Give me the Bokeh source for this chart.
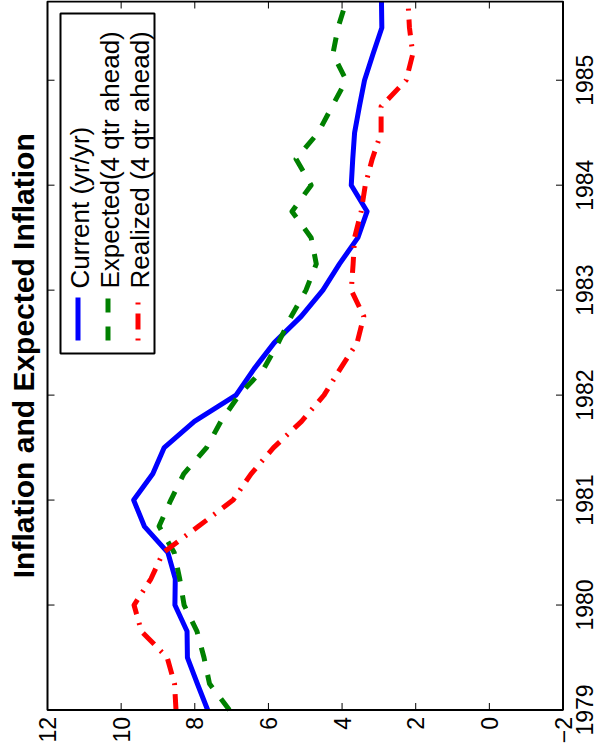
import math
from bokeh.plotting import figure
from bokeh.models import Range1d, Label, BoxAnnotation, Arrow, ColumnDataSource
from bokeh.core.properties import value
from bokeh.embed import file_html
from bokeh.resources import INLINE

# ---------------- data ----------------
quarters = [1979.00, 1979.25, 1979.50, 1979.75, 1980.00, 1980.25, 1980.50, 1980.75,
            1981.00, 1981.25, 1981.50, 1981.75, 1982.00, 1982.25, 1982.50, 1982.75,
            1983.00, 1983.25, 1983.50, 1983.75, 1984.00, 1984.25, 1984.50, 1984.75,
            1985.00, 1985.25, 1985.50, 1985.75]

current = [7.65, 7.93, 8.20, 8.21, 8.54, 8.53, 8.73, 9.37,
           9.66, 9.14, 8.83, 8.01, 6.88, 6.39, 5.84, 5.11,
           4.52, 4.07, 3.57, 3.32, 3.75, 3.71, 3.66, 3.53,
           3.39, 3.16, 2.92, 2.93]

expected = [7.06, 7.60, 7.75, 7.94, 8.29, 8.41, 8.56, 8.97,
            8.65, 8.30, 7.68, 7.29, 6.80, 6.13, 5.73, 5.38,
            4.98, 4.70, 4.84, 5.36, 4.84, 5.25, 4.65, 4.27,
            3.89, 4.25, 4.11, 3.89]

realized = [8.51, 8.55, 8.75, 9.45, 9.65, 9.19, 8.86, 7.90,
            6.96, 6.47, 5.86, 5.10, 4.49, 4.05, 3.59, 3.41,
            3.75, 3.70, 3.66, 3.48, 3.37, 3.18, 2.94, 2.94,
            2.26, 2.08, 2.17, 2.21]

series_names = ["Current (yr/yr)", "Expected(4 qtr ahead)", "Realized (4 qtr ahead)"]
inflation_ticks = [12, 10, 8, 6, 4, 2, 0, -2]
inflation_labels = ["12", "10", "8", "6", "4", "2", "0", "\u22122"]
year_ticks = [1979, 1980, 1981, 1982, 1983, 1984, 1985]
year_labels = ["1979", "1980", "1981", "1982", "1983", "1984", "1985"]
title_text = "Inflation and Expected Inflation"

# ---------------- layout (pixels of the rotated axes box) ----------------
W, H = 598, 754
BL, BR, BT, BB = 47, 562.5, 1, 709.5      # box edges in pixels
X0, X1 = 12, -2                           # values at box left / right
Y0, Y1 = 1979, 1985.75                    # years at box bottom / top
SX = (BR - BL) / (X0 - X1)                # px per inflation unit
SY = (BB - BT) / (Y1 - Y0)                # px per year
FONT = "Liberation Sans"
TICK = 7


def vx(px):
    return X0 - (px - BL) / SX


def ty(py):
    return Y0 + (BB - py) / SY


# the frame covers the whole canvas; the axes box is drawn inside it
p = figure(width=W, height=H, x_range=Range1d(vx(0), vx(W)), y_range=Range1d(ty(H), ty(0)),
           output_backend="svg", toolbar_location=None,
           x_axis_location=None, y_axis_location=None, min_border=0)
p.xgrid.visible = False
p.ygrid.visible = False
p.outline_line_color = None
p.background_fill_color = "white"
p.border_fill_color = "white"

# ---------------- lines ----------------
src = ColumnDataSource(data=dict(t=quarters, cur=current, exp=expected, rea=realized))

styles = [
    dict(col="cur", color="#0000FF", dash="solid", offset=0),
    dict(col="exp", color="#008000", dash="14 14", offset=0),
    dict(col="rea", color="#FF0000", dash="16 9 2 9", offset=25),
]

for st in styles:
    p.line(x=st["col"], y="t", source=src, line_color=st["color"], line_width=5,
           line_dash=st["dash"], line_join="round", line_cap="butt")

# ---------------- axes box, ticks and tick labels ----------------
p.add_layout(BoxAnnotation(left=X0, right=X1, bottom=Y0, top=Y1,
                           fill_alpha=0, line_color="black", line_alpha=1.0, line_width=2))

nx, ny = len(inflation_ticks), len(year_ticks)
dy = TICK / SY
dx = TICK / SX
# ticks on bottom and top edges (inflation values)
p.segment(x0=inflation_ticks, x1=inflation_ticks, y0=[Y0] * nx, y1=[Y0 + dy] * nx,
          line_color="black", line_width=1)
p.segment(x0=inflation_ticks, x1=inflation_ticks, y0=[Y1] * nx, y1=[Y1 - dy] * nx,
          line_color="black", line_width=1)
# ticks on left and right edges (years)
p.segment(x0=[X0] * ny, x1=[X0 - dx] * ny, y0=year_ticks, y1=year_ticks,
          line_color="black", line_width=1)
p.segment(x0=[X1] * ny, x1=[X1 + dx] * ny, y0=year_ticks, y1=year_ticks,
          line_color="black", line_width=1)

# inflation tick labels below the box (read bottom-to-top)
p.text(x=inflation_ticks, y=[ty(BB + 7)] * nx, text=inflation_labels, angle=math.pi / 2,
       text_font=value(FONT), text_font_size="23px", text_color="black",
       text_align="right", text_baseline="middle")

# year tick labels right of the box
p.text(x=[vx(584)] * ny, y=year_ticks, text=year_labels, angle=math.pi / 2,
       text_font=value(FONT), text_font_size="23px", text_color="black",
       text_align="center", text_baseline="middle")

# title along the left side
p.add_layout(Label(x=vx(22.5), y=(Y0 + Y1) / 2, text=title_text, angle=math.pi / 2,
                   text_font=FONT, text_font_size="30px", text_font_style="bold",
                   text_color="black", text_align="center", text_baseline="alphabetic"))

# ---------------- legend (rotated, drawn by hand) ----------------
p.add_layout(BoxAnnotation(left=vx(60), right=vx(154), top=ty(13), bottom=ty(353),
                           fill_color="white", fill_alpha=1.0,
                           line_color="black", line_alpha=1.0, line_width=2))

entry_px = [77.5, 107.5, 137.5]
for name, st, cx in zip(series_names, styles, entry_px):
    p.add_layout(Arrow(end=None, x_start=vx(cx), y_start=ty(340), x_end=vx(cx), y_end=ty(297),
                       line_color=st["color"], line_width=5, line_dash=st["dash"],
                       line_dash_offset=st["offset"], line_cap="butt"))
    p.add_layout(Label(x=vx(cx + 1.5), y=ty(288), text=name, angle=math.pi / 2,
                       text_font=FONT, text_font_size="26px", text_color="black",
                       text_align="left", text_baseline="alphabetic"))

open("out.html", "w").write(file_html(p, INLINE))
